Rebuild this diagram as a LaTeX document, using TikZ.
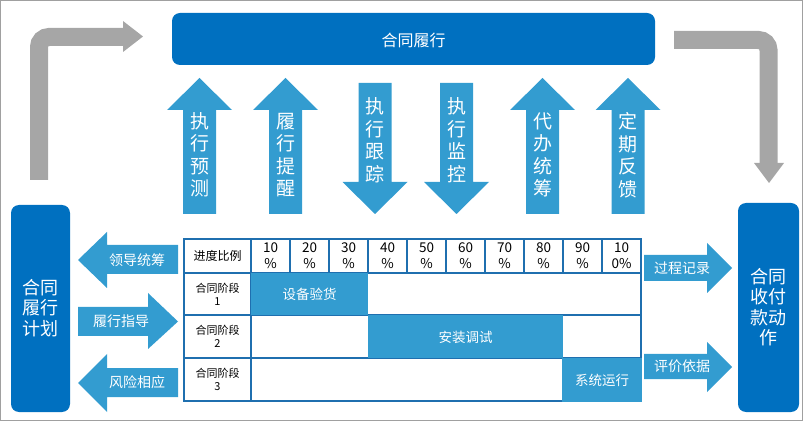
\documentclass[tikz,border=0pt]{standalone}
\usepackage{fontspec}
\setmainfont{Noto Sans CJK SC}
\definecolor{dblue}{HTML}{0070C0}
\definecolor{lblue}{HTML}{339CD0}
\definecolor{agray}{HTML}{A6A6A6}
\definecolor{tline}{HTML}{1F6FAF}
\definecolor{frame}{HTML}{A0A0A0}
\tikzset{
  vtxt/.style={text=white, font=\fontsize{19}{22.5}\selectfont, align=center, inner sep=0pt},
  htxt/.style={text=white, font=\fontsize{14}{16}\selectfont, inner sep=0pt},
  boxtxt/.style={text=white, font=\fontsize{18}{20.5}\selectfont, align=center, inner sep=0pt},
  pct/.style={text=black, font=\fontsize{13.5}{16}\selectfont, align=center, inner sep=0pt},
  rowlab/.style={text=black, font=\fontsize{11}{13}\selectfont, align=center, inner sep=0pt},
  celltxt/.style={text=white, font=\fontsize{13.5}{16}\selectfont, inner sep=0pt},
  tl/.style={draw=tline, line width=1.1pt},
  grayarrow/.style={draw=agray, line width=18pt, rounded corners=10pt},
}
\newcommand\UpArr[3]{%
  \fill[lblue] (#1-16.5,214) -- (#1-16.5,110) -- (#1-32.5,110) -- (#1,78) -- (#1+32.5,110) -- (#1+16.5,110) -- (#1+16.5,214) -- cycle;
  \node[vtxt] (#2) at (#1,155) {#3};
}
\newcommand\DownArr[3]{%
  \fill[lblue] (#1-16.5,83) -- (#1-16.5,182) -- (#1-32.5,182) -- (#1,214) -- (#1+32.5,182) -- (#1+16.5,182) -- (#1+16.5,83) -- cycle;
  \node[vtxt] (#2) at (#1,140) {#3};
}
\begin{document}
\begin{tikzpicture}[x=1pt,y=-1pt]
\useasboundingbox (0,0) rectangle (804,422);
\draw[frame, line width=1.2pt] (0.6,0.6) rectangle (802.6,420.6);

% gray bent arrows
\draw[grayarrow] (39,180) -- (39,37) -- (124,37);
\fill[agray] (123,21) -- (143,36.5) -- (123,52) -- cycle;
\draw[grayarrow] (674,40) -- (768.5,40) -- (768.5,164);
\fill[agray] (754,163) -- (784,163) -- (769,183) -- cycle;

% top box
\fill[dblue, rounded corners=8pt] (172,13) rectangle (655,65);
\node[text=white, font=\fontsize{16}{18}\selectfont, inner sep=0pt] (top) at (413.5,40) {合同履行};

% side boxes
\fill[dblue, rounded corners=8pt] (11,205) rectangle (70,412);
\node[boxtxt] (plan) at (40.5,308) {合同\\履行\\计划};
\fill[dblue, rounded corners=8pt] (738,203) rectangle (799,412);
\node[boxtxt] (pay) at (768.5,307) {合同\\收付\\款动\\作};

% vertical arrows
\UpArr{199.5}{a1}{执\\行\\预\\测}
\UpArr{285.5}{a2}{履\\行\\提\\醒}
\DownArr{375}{a3}{执\\行\\跟\\踪}
\DownArr{456.5}{a4}{执\\行\\监\\控}
\UpArr{542.5}{a5}{代\\办\\统\\筹}
\UpArr{628}{a6}{定\\期\\反\\馈}

% left horizontal arrows
\fill[lblue] (178,245) -- (107,245) -- (107,232) -- (78,260) -- (107,288) -- (107,274) -- (178,274) -- cycle;
\node[htxt] (l1) at (137,260) {领导统筹};
\fill[lblue] (78,307) -- (148,307) -- (148,293) -- (178,321.5) -- (148,349) -- (148,336) -- (78,336) -- cycle;
\node[htxt] (l2) at (121,321.5) {履行指导};
\fill[lblue] (178,368) -- (107,368) -- (107,354) -- (78,383) -- (107,412) -- (107,397) -- (178,397) -- cycle;
\node[htxt] (l3) at (137,382.5) {风险相应};

% right horizontal arrows
\fill[lblue] (644,255) -- (707,255) -- (707,243) -- (732,268) -- (707,293) -- (707,281) -- (644,281) -- cycle;
\node[htxt] (r1) at (682,268) {过程记录};
\fill[lblue] (644,354) -- (707,354) -- (707,342) -- (732,367) -- (707,392) -- (707,379) -- (644,379) -- cycle;
\node[htxt] (r2) at (682,366.5) {评价依据};

% table lines
\draw[tl] (184,239) rectangle (641,401);
\draw[tl] (184,273) -- (641,273);
\draw[tl] (184,315) -- (641,315);
\draw[tl] (184,358) -- (641,358);
\draw[tl] (251,239) -- (251,401);
\foreach \i in {1,...,9} { \draw[tl] (251+39*\i,239) -- (251+39*\i,273); }

% filled cells
\fill[lblue] (251,273.5) rectangle (367.5,315.5);
\node[celltxt] (c1) at (309.5,294.5) {设备验货};
\fill[lblue] (368,315.5) rectangle (563,358);
\node[celltxt] (c2) at (465.5,337) {安装调试};
\fill[lblue] (562,358) rectangle (642,402);
\node[celltxt] (c3) at (602,380) {系统运行};

% header text
\node[rowlab, font=\fontsize{12}{14}\selectfont] (h0) at (217.5,256) {进度比例};
\node[pct] (h1) at (270.5,255.5) {10\\\%};
\node[pct] (h2) at (309.5,255.5) {20\\\%};
\node[pct] (h3) at (348.5,255.5) {30\\\%};
\node[pct] (h4) at (387.5,255.5) {40\\\%};
\node[pct] (h5) at (426.5,255.5) {50\\\%};
\node[pct] (h6) at (465.5,255.5) {60\\\%};
\node[pct] (h7) at (504.5,255.5) {70\\\%};
\node[pct] (h8) at (543.5,255.5) {80\\\%};
\node[pct] (h9) at (582.5,255.5) {90\\\%};
\node[pct] (h10) at (621.5,255.5) {10\\0\%};

% row labels
\node[rowlab] (s1) at (217.5,294) {合同阶段\\1};
\node[rowlab] (s2) at (217.5,336.5) {合同阶段\\2};
\node[rowlab] (s3) at (217.5,379.5) {合同阶段\\3};
\end{tikzpicture}
\end{document}
